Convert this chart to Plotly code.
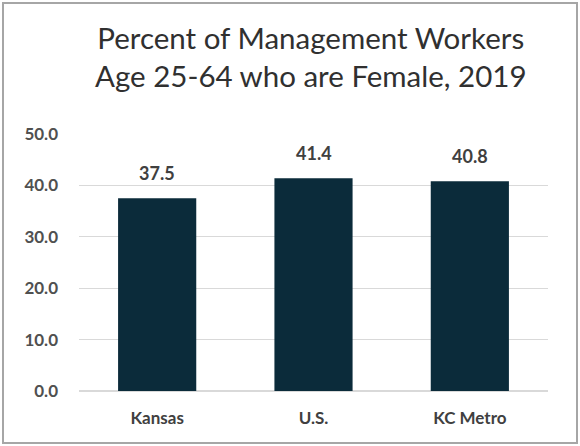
import plotly.graph_objects as go

# Share of management workers (age 25-64) who are female, 2019
regions = ["Kansas", "U.S.", "KC Metro"]
pct_female = [37.5, 41.4, 40.8]
y_ticks = [0, 10, 20, 30, 40, 50]
y_tick_labels = [f"{v:.1f}" for v in y_ticks]
title_lines = ["Percent of Management Workers", "Age 25-64 who are Female, 2019"]

BAR = "#0b2b3a"
TEXT = "#404040"
FONT = "Lato"

# plot area in pixels, used to place the frame and title in paper units
PLOT_W, PLOT_H = 469, 257

fig = go.Figure(
    go.Bar(
        x=regions,
        y=pct_female,
        marker=dict(color=BAR, line=dict(width=0)),
        width=0.5,
        hovertemplate="%{x}: %{y:.1f}<extra></extra>",
    )
)

# value labels sit a little above each bar
value_labels = [
    dict(
        x=r,
        y=v,
        xref="x",
        yref="y",
        text=f"{v:.1f}",
        showarrow=False,
        xanchor="center",
        yanchor="bottom",
        yshift=12,
        font=dict(family=FONT, size=18, color=TEXT, weight="bold"),
    )
    for r, v in zip(regions, pct_female)
]

title_note = dict(
    text="<br>".join(title_lines),
    xref="paper",
    yref="paper",
    x=0.495,
    y=1 + 116 / PLOT_H,
    xanchor="center",
    yanchor="top",
    showarrow=False,
    font=dict(family=FONT, size=29.5, color="#303030"),
)

fig.update_layout(
    width=580,
    height=446,
    margin=dict(l=79, r=32, t=134, b=55),
    paper_bgcolor="white",
    plot_bgcolor="white",
    showlegend=False,
    xaxis=dict(
        showgrid=False,
        showline=False,
        ticks="",
        ticklabelstandoff=15,
        tickfont=dict(family=FONT, size=17, color=TEXT, weight="bold"),
    ),
    yaxis=dict(
        range=[0, 50],
        tickvals=y_ticks,
        ticktext=y_tick_labels,
        showgrid=True,
        gridcolor="#d9d9d9",
        gridwidth=1,
        zeroline=True,
        zerolinecolor="#d9d9d9",
        showline=False,
        ticks="",
        ticklabelstandoff=20,
        tickfont=dict(family=FONT, size=17, color="#505050", weight="bold"),
    ),
    annotations=value_labels + [title_note],
    shapes=[
        dict(
            type="rect",
            xref="paper",
            yref="paper",
            x0=-76 / PLOT_W,
            x1=1 + 29 / PLOT_W,
            y0=-52 / PLOT_H,
            y1=1 + 131 / PLOT_H,
            line=dict(color="#a6a6a6", width=2),
            fillcolor="rgba(0,0,0,0)",
            layer="above",
        )
    ],
)

fig.write_html("out.html")
